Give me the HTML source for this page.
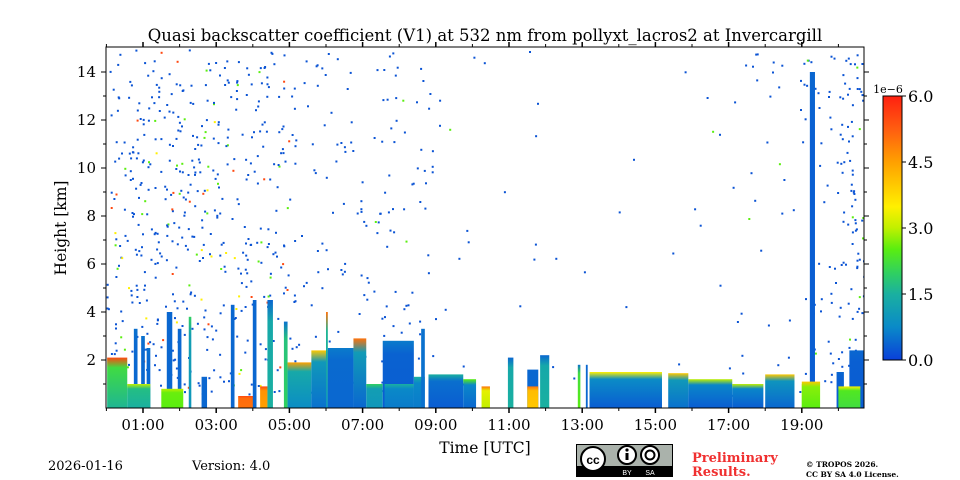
<!DOCTYPE html>
<html><head><meta charset="utf-8"><style>
body{margin:0;background:#fff;width:960px;height:480px;overflow:hidden}
svg{display:block;font-family:"DejaVu Serif","Liberation Serif",serif}
</style></head><body>
<svg id="c" width="960" height="480" viewBox="0 0 960 480">
<defs>
<linearGradient id="cbar" x1="0" y1="1" x2="0" y2="0">
<stop offset="0" stop-color="#0a3fd9"/><stop offset="0.125" stop-color="#0a8ac8"/><stop offset="0.25" stop-color="#1ab0a0"/><stop offset="0.33" stop-color="#30d060"/><stop offset="0.42" stop-color="#5aee10"/><stop offset="0.5" stop-color="#c0f000"/><stop offset="0.58" stop-color="#fff000"/><stop offset="0.75" stop-color="#ffa000"/><stop offset="0.87" stop-color="#ff6010"/><stop offset="1" stop-color="#ff2010"/>
</linearGradient>
<clipPath id="plotclip"><rect x="106" y="47" width="758" height="361"/></clipPath>
</defs>
<text x="485" y="41" font-size="16.5" text-anchor="middle">Quasi backscatter coefficient (V1) at 532 nm from pollyxt_lacros2 at Invercargill</text>
<g id="plot" clip-path="url(#plotclip)"></g>
<rect x="106" y="47" width="758" height="361" fill="none" stroke="#000" stroke-width="1"/>
<g id="axes"></g>
<text x="66" y="228" font-size="15.5" text-anchor="middle" transform="rotate(-90 66 228)">Height [km]</text>
<text x="485" y="453" font-size="15.5" text-anchor="middle">Time [UTC]</text>
<rect x="883" y="96" width="19" height="264" fill="url(#cbar)" stroke="#000" stroke-width="1"/>
<text x="888" y="93" font-size="11" text-anchor="middle">1e−6</text>
<g id="cbaxis"></g>
<text x="48" y="470" font-size="13">2026-01-16</text>
<text x="192" y="470" font-size="13">Version: 4.0</text>
<g>
<rect x="576" y="444" width="97" height="33" fill="#000"/>
<rect x="577" y="445" width="95" height="21" fill="#aab2ab"/>
<circle cx="593" cy="459" r="12" fill="#fff" stroke="#000" stroke-width="2"/>
<text x="593" y="464" font-size="12" font-weight="bold" text-anchor="middle" font-family="Liberation Sans,sans-serif">cc</text>
<circle cx="627" cy="455" r="9" fill="#fff" stroke="#000" stroke-width="2"/>
<rect x="625.5" y="453" width="3" height="7" fill="#000"/><circle cx="627" cy="450" r="1.6" fill="#000"/>
<circle cx="650" cy="455" r="9" fill="#fff" stroke="#000" stroke-width="2"/>
<circle cx="650" cy="455" r="4.5" fill="none" stroke="#000" stroke-width="2"/>
<text x="627" y="475" font-size="7" fill="#fff" text-anchor="middle" font-family="Liberation Sans,sans-serif">BY</text>
<text x="650" y="475" font-size="7" fill="#fff" text-anchor="middle" font-family="Liberation Sans,sans-serif">SA</text>
</g>
<text x="692" y="462" font-size="13" font-weight="bold" fill="#f03030">Preliminary</text>
<text x="692" y="476" font-size="13" font-weight="bold" fill="#f03030">Results.</text>
<text x="806" y="467" font-size="7.5" font-weight="bold">© TROPOS 2026.</text>
<text x="806" y="477" font-size="7.5" font-weight="bold">CC BY SA 4.0 License.</text>
</svg>
<script>
// layer segments (hours, km, value 1e-6)
const segStart=[0.02,0.75,0.95,1.1,0.57,1.65,1.95,1.5,2.25,2.6,3.4,3.6,4.0,4.2,4.4,4.85,4.95,5.6,6.0,6.05,6.75,7.1,7.55,7.6,8.4,8.6,8.8,9.75,10.25,10.97,11.5,11.5,11.85,12.88,13.1,13.2,15.35,15.9,17.1,18.0,19.0,19.22,19.0,19.95,20.3,20.0];
const segEnd  =[0.57,0.85,1.05,1.2,1.2,1.8,2.05,2.1,2.32,2.75,3.5,4.1,4.1,4.4,4.55,4.95,5.6,6.05,6.05,6.75,7.1,7.55,8.4,8.4,8.7,8.7,9.75,10.1,10.48,11.12,11.8,11.8,12.1,12.95,13.15,15.18,15.9,17.1,17.95,18.8,19.05,19.36,19.5,20.15,20.7,20.6];
const segTop  =[2.1,3.3,3.0,2.5,1.0,4.0,3.3,0.8,3.8,1.3,4.3,0.5,4.5,0.9,4.5,3.6,1.9,2.4,4.0,2.5,2.9,1.0,2.8,1.0,1.3,3.3,1.4,1.2,0.9,2.1,1.6,0.9,2.2,1.8,1.8,1.5,1.45,1.2,1.0,1.4,1.0,14.0,1.1,1.5,2.4,0.9];
const segBase =[1.6,0.4,0.4,0.4,1.5,0.4,0.4,2.5,1.0,0.4,0.4,5.0,0.4,4.5,1.5,2.0,0.8,0.5,1.0,0.4,0.4,1.0,0.3,0.6,0.6,0.5,0.3,0.4,3.0,1.5,0.4,4.0,1.5,2.5,0.4,0.3,0.5,0.3,0.3,0.4,2.5,0.3,2.5,0.3,0.3,2.2];
const segCap  =[5.5,0.5,0.5,0.5,3.0,0.4,0.4,3.0,2.0,0.4,0.4,5.5,0.4,5.5,0.4,0.5,4.5,4.0,5.0,0.6,5.0,2.0,0.6,1.5,1.5,0.5,1.5,2.5,5.0,0.4,0.4,5.0,0.4,0.5,0.4,3.5,4.0,3.0,3.0,4.0,4.0,0.4,4.0,0.4,0.4,3.5];
// noise density per hour bin (fraction)
const noiseDensity=[0.35,0.4,0.35,0.3,0.3,0.15,0.12,0.15,0.12,0.03,0.01,0.02,0.01,0.005,0.005,0.01,0.02,0.06,0.06,0.15,0.45];
const yTicks=[2,4,6,8,10,12,14];
const xTickHours=[1,3,5,7,9,11,13,15,17,19];
const xTickLabels=["01:00","03:00","05:00","07:00","09:00","11:00","13:00","15:00","17:00","19:00"];
const cbTicks=[0,1.5,3,4.5,6];
const cbLabels=["0.0","1.5","3.0","4.5","6.0"];

const NS="http://www.w3.org/2000/svg";
const X=h=>106.4+h*36.6, Y=k=>408-k*24, CB=v=>360-v*44;
const stops=[[0,[10,63,217]],[0.75,[10,138,200]],[1.5,[26,176,160]],[2,[48,208,96]],[2.5,[90,238,16]],[3,[192,240,0]],[3.5,[255,240,0]],[4.5,[255,160,0]],[5.2,[255,96,16]],[6,[255,32,16]]];
function col(v){v=Math.max(0,Math.min(6,v));for(let i=1;i<stops.length;i++){if(v<=stops[i][0]){const a=stops[i-1],b=stops[i],t=(v-a[0])/(b[0]-a[0]);return 'rgb('+a[1].map((c,j)=>Math.round(c+(b[1][j]-c)*t)).join(',')+')';}}return 'rgb(255,32,16)';}
function mk(tag,at,p){const e=document.createElementNS(NS,tag);for(const k in at)e.setAttribute(k,at[k]);p.appendChild(e);return e;}
const plot=document.getElementById('plot'),defs=document.querySelector('defs');
// noise dots (deterministic texture)
let s=12345;const rnd=()=>{s=(s*1103515245+12345)%2147483648;return s/2147483648;};
for(let h=0;h<noiseDensity.length;h++){
  const n=Math.round(noiseDensity[h]*300);
  for(let i=0;i<n;i++){
    const hh=h+rnd(),kk=0.5+rnd()*14.5;
    if(hh>20.7)continue;
    const r=rnd();const v=h<5?(r<0.85?0.2:r<0.92?2.5:r<0.96?3.5:5.5):(r<0.97?0.2:2.5);
    const d=mk('rect',{x:X(hh).toFixed(1),y:Y(kk).toFixed(1),width:2,height:2,fill:col(v)},plot);
    
    
  }
}
// layers
for(let i=0;i<segStart.length;i++){
  const g=mk('linearGradient',{id:'g'+i,x1:0,y1:1,x2:0,y2:0},defs);
  mk('stop',{offset:0,'stop-color':col(segBase[i])},g);
  mk('stop',{offset:0.8,'stop-color':col(segBase[i]*0.85+segCap[i]*0.15)},g);
  mk('stop',{offset:1,'stop-color':col(segCap[i])},g);
  const r=mk('rect',{x:X(segStart[i]),y:Y(segTop[i]),width:X(segEnd[i])-X(segStart[i]),height:Y(0)-Y(segTop[i]),fill:'url(#g'+i+')'},plot);
  
  
}
// axes
const ax=document.getElementById('axes');
for(let k=1;k<=14;k++){
  const L=k%2?3:5;
  mk('line',{x1:106,x2:106-L,y1:Y(k),y2:Y(k),stroke:'#000'},ax);
  mk('line',{x1:864,x2:864+L,y1:Y(k),y2:Y(k),stroke:'#000'},ax);
}
yTicks.forEach(k=>{const t=mk('text',{x:96,y:Y(k)+5,'font-size':15,'text-anchor':'end'},ax);t.textContent=k;
  
  });
for(let h=0;h<=20;h++){
  const L=h%2?5:3;
  mk('line',{x1:X(h),x2:X(h),y1:408,y2:408+L,stroke:'#000','stroke-width':h%2?1.5:1},ax);
  mk('line',{x1:X(h),x2:X(h),y1:47,y2:47-L,stroke:'#000','stroke-width':h%2?1.5:1},ax);
}
xTickHours.forEach((h,i)=>{const t=mk('text',{x:X(h),y:430,'font-size':15,'text-anchor':'middle'},ax);t.textContent=xTickLabels[i];
  
  });
const cb=document.getElementById('cbaxis');
cbTicks.forEach((v,i)=>{mk('line',{x1:902,x2:906,y1:CB(v),y2:CB(v),stroke:'#000'},cb);
  const t=mk('text',{x:908,y:CB(v)+6,'font-size':16},cb);t.textContent=cbLabels[i];
  
  });
</script>
</body></html>
